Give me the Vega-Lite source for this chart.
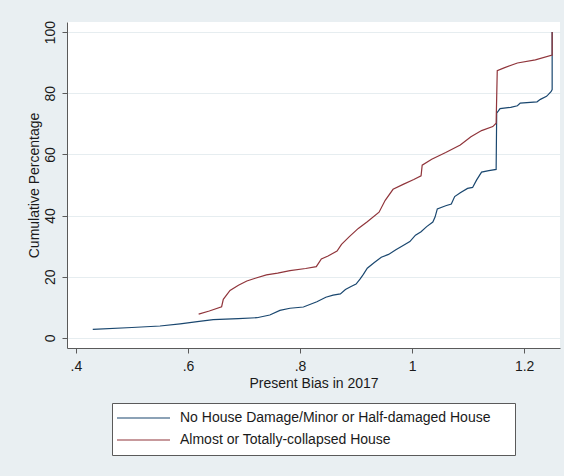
{
  "$schema": "https://vega.github.io/schema/vega-lite/v6.json",
  "width": 493,
  "height": 326,
  "autosize": {"type": "none"},
  "padding": {"left": 67, "top": 22, "right": 4, "bottom": 128},
  "background": "#e9eff2",
  "config": {
    "font": "Liberation Sans",
    "view": {"fill": "white", "stroke": null},
    "axis": {
      "domainColor": "#5a5a5a",
      "tickColor": "#5a5a5a",
      "tickSize": 5,
      "labelFont": "Liberation Sans",
      "labelFontSize": 14,
      "labelColor": "#1a1a1a",
      "titleFont": "Liberation Sans",
      "titleFontSize": 14,
      "titleFontWeight": "normal",
      "titleColor": "#1a1a1a"
    }
  },
  "data": {
    "values": [
      {"i": 1, "group": "No House Damage/Minor or Half-damaged House", "bias": 0.43, "pct": 2.8},
      {"i": 2, "group": "No House Damage/Minor or Half-damaged House", "bias": 0.5, "pct": 3.4},
      {"i": 3, "group": "No House Damage/Minor or Half-damaged House", "bias": 0.55, "pct": 3.9},
      {"i": 4, "group": "No House Damage/Minor or Half-damaged House", "bias": 0.586, "pct": 4.6},
      {"i": 5, "group": "No House Damage/Minor or Half-damaged House", "bias": 0.62, "pct": 5.4},
      {"i": 6, "group": "No House Damage/Minor or Half-damaged House", "bias": 0.645, "pct": 6.0},
      {"i": 7, "group": "No House Damage/Minor or Half-damaged House", "bias": 0.69, "pct": 6.3},
      {"i": 8, "group": "No House Damage/Minor or Half-damaged House", "bias": 0.723, "pct": 6.6},
      {"i": 9, "group": "No House Damage/Minor or Half-damaged House", "bias": 0.746, "pct": 7.5},
      {"i": 10, "group": "No House Damage/Minor or Half-damaged House", "bias": 0.764, "pct": 9.0},
      {"i": 11, "group": "No House Damage/Minor or Half-damaged House", "bias": 0.782, "pct": 9.7},
      {"i": 12, "group": "No House Damage/Minor or Half-damaged House", "bias": 0.806, "pct": 10.1},
      {"i": 13, "group": "No House Damage/Minor or Half-damaged House", "bias": 0.83, "pct": 11.8},
      {"i": 14, "group": "No House Damage/Minor or Half-damaged House", "bias": 0.846, "pct": 13.3},
      {"i": 15, "group": "No House Damage/Minor or Half-damaged House", "bias": 0.859, "pct": 14.0},
      {"i": 16, "group": "No House Damage/Minor or Half-damaged House", "bias": 0.872, "pct": 14.4},
      {"i": 17, "group": "No House Damage/Minor or Half-damaged House", "bias": 0.881, "pct": 15.8},
      {"i": 18, "group": "No House Damage/Minor or Half-damaged House", "bias": 0.891, "pct": 16.8},
      {"i": 19, "group": "No House Damage/Minor or Half-damaged House", "bias": 0.9, "pct": 17.6},
      {"i": 20, "group": "No House Damage/Minor or Half-damaged House", "bias": 0.907, "pct": 19.2},
      {"i": 21, "group": "No House Damage/Minor or Half-damaged House", "bias": 0.913, "pct": 20.8},
      {"i": 22, "group": "No House Damage/Minor or Half-damaged House", "bias": 0.92, "pct": 22.8},
      {"i": 23, "group": "No House Damage/Minor or Half-damaged House", "bias": 0.932, "pct": 24.6},
      {"i": 24, "group": "No House Damage/Minor or Half-damaged House", "bias": 0.945, "pct": 26.4},
      {"i": 25, "group": "No House Damage/Minor or Half-damaged House", "bias": 0.958, "pct": 27.3},
      {"i": 26, "group": "No House Damage/Minor or Half-damaged House", "bias": 0.971, "pct": 28.8},
      {"i": 27, "group": "No House Damage/Minor or Half-damaged House", "bias": 0.984, "pct": 30.2},
      {"i": 28, "group": "No House Damage/Minor or Half-damaged House", "bias": 0.996, "pct": 31.5},
      {"i": 29, "group": "No House Damage/Minor or Half-damaged House", "bias": 1.006, "pct": 33.6},
      {"i": 30, "group": "No House Damage/Minor or Half-damaged House", "bias": 1.016, "pct": 34.7},
      {"i": 31, "group": "No House Damage/Minor or Half-damaged House", "bias": 1.026, "pct": 36.4},
      {"i": 32, "group": "No House Damage/Minor or Half-damaged House", "bias": 1.037, "pct": 37.9},
      {"i": 33, "group": "No House Damage/Minor or Half-damaged House", "bias": 1.041, "pct": 39.5},
      {"i": 34, "group": "No House Damage/Minor or Half-damaged House", "bias": 1.045, "pct": 42.2},
      {"i": 35, "group": "No House Damage/Minor or Half-damaged House", "bias": 1.06, "pct": 43.2},
      {"i": 36, "group": "No House Damage/Minor or Half-damaged House", "bias": 1.07, "pct": 43.8},
      {"i": 37, "group": "No House Damage/Minor or Half-damaged House", "bias": 1.076, "pct": 46.2},
      {"i": 38, "group": "No House Damage/Minor or Half-damaged House", "bias": 1.086, "pct": 47.5},
      {"i": 39, "group": "No House Damage/Minor or Half-damaged House", "bias": 1.099, "pct": 48.9},
      {"i": 40, "group": "No House Damage/Minor or Half-damaged House", "bias": 1.108, "pct": 49.2},
      {"i": 41, "group": "No House Damage/Minor or Half-damaged House", "bias": 1.115, "pct": 51.6},
      {"i": 42, "group": "No House Damage/Minor or Half-damaged House", "bias": 1.124, "pct": 54.2},
      {"i": 43, "group": "No House Damage/Minor or Half-damaged House", "bias": 1.137, "pct": 54.7},
      {"i": 44, "group": "No House Damage/Minor or Half-damaged House", "bias": 1.15, "pct": 55.1},
      {"i": 45, "group": "No House Damage/Minor or Half-damaged House", "bias": 1.151, "pct": 73.5},
      {"i": 46, "group": "No House Damage/Minor or Half-damaged House", "bias": 1.157, "pct": 75.0},
      {"i": 47, "group": "No House Damage/Minor or Half-damaged House", "bias": 1.176, "pct": 75.4},
      {"i": 48, "group": "No House Damage/Minor or Half-damaged House", "bias": 1.188, "pct": 75.9},
      {"i": 49, "group": "No House Damage/Minor or Half-damaged House", "bias": 1.193, "pct": 76.8},
      {"i": 50, "group": "No House Damage/Minor or Half-damaged House", "bias": 1.223, "pct": 77.2},
      {"i": 51, "group": "No House Damage/Minor or Half-damaged House", "bias": 1.229, "pct": 78.0},
      {"i": 52, "group": "No House Damage/Minor or Half-damaged House", "bias": 1.24, "pct": 79.0},
      {"i": 53, "group": "No House Damage/Minor or Half-damaged House", "bias": 1.248, "pct": 80.5},
      {"i": 54, "group": "No House Damage/Minor or Half-damaged House", "bias": 1.25, "pct": 81.2},
      {"i": 55, "group": "No House Damage/Minor or Half-damaged House", "bias": 1.25, "pct": 100},
      {"i": 1, "group": "Almost or Totally-collapsed House", "bias": 0.619, "pct": 7.8},
      {"i": 2, "group": "Almost or Totally-collapsed House", "bias": 0.638, "pct": 8.8},
      {"i": 3, "group": "Almost or Totally-collapsed House", "bias": 0.66, "pct": 10.2},
      {"i": 4, "group": "Almost or Totally-collapsed House", "bias": 0.663, "pct": 12.6},
      {"i": 5, "group": "Almost or Totally-collapsed House", "bias": 0.675, "pct": 15.5},
      {"i": 6, "group": "Almost or Totally-collapsed House", "bias": 0.69, "pct": 17.2},
      {"i": 7, "group": "Almost or Totally-collapsed House", "bias": 0.705, "pct": 18.6},
      {"i": 8, "group": "Almost or Totally-collapsed House", "bias": 0.72, "pct": 19.5},
      {"i": 9, "group": "Almost or Totally-collapsed House", "bias": 0.74, "pct": 20.6},
      {"i": 10, "group": "Almost or Totally-collapsed House", "bias": 0.76, "pct": 21.2},
      {"i": 11, "group": "Almost or Totally-collapsed House", "bias": 0.782, "pct": 22.0},
      {"i": 12, "group": "Almost or Totally-collapsed House", "bias": 0.81, "pct": 22.7},
      {"i": 13, "group": "Almost or Totally-collapsed House", "bias": 0.829, "pct": 23.3},
      {"i": 14, "group": "Almost or Totally-collapsed House", "bias": 0.838, "pct": 25.8},
      {"i": 15, "group": "Almost or Totally-collapsed House", "bias": 0.85, "pct": 26.8},
      {"i": 16, "group": "Almost or Totally-collapsed House", "bias": 0.866, "pct": 28.4},
      {"i": 17, "group": "Almost or Totally-collapsed House", "bias": 0.874, "pct": 30.6},
      {"i": 18, "group": "Almost or Totally-collapsed House", "bias": 0.888, "pct": 33.1},
      {"i": 19, "group": "Almost or Totally-collapsed House", "bias": 0.904, "pct": 35.8},
      {"i": 20, "group": "Almost or Totally-collapsed House", "bias": 0.92, "pct": 38.0},
      {"i": 21, "group": "Almost or Totally-collapsed House", "bias": 0.941, "pct": 41.1},
      {"i": 22, "group": "Almost or Totally-collapsed House", "bias": 0.952, "pct": 45.0},
      {"i": 23, "group": "Almost or Totally-collapsed House", "bias": 0.966, "pct": 48.6},
      {"i": 24, "group": "Almost or Totally-collapsed House", "bias": 0.984, "pct": 50.2},
      {"i": 25, "group": "Almost or Totally-collapsed House", "bias": 1.003, "pct": 51.8},
      {"i": 26, "group": "Almost or Totally-collapsed House", "bias": 1.016, "pct": 53.0},
      {"i": 27, "group": "Almost or Totally-collapsed House", "bias": 1.018, "pct": 56.5},
      {"i": 28, "group": "Almost or Totally-collapsed House", "bias": 1.035, "pct": 58.4},
      {"i": 29, "group": "Almost or Totally-collapsed House", "bias": 1.06, "pct": 60.6},
      {"i": 30, "group": "Almost or Totally-collapsed House", "bias": 1.086, "pct": 63.1},
      {"i": 31, "group": "Almost or Totally-collapsed House", "bias": 1.105, "pct": 65.8},
      {"i": 32, "group": "Almost or Totally-collapsed House", "bias": 1.124, "pct": 67.8},
      {"i": 33, "group": "Almost or Totally-collapsed House", "bias": 1.144, "pct": 69.1},
      {"i": 34, "group": "Almost or Totally-collapsed House", "bias": 1.15, "pct": 70.2},
      {"i": 35, "group": "Almost or Totally-collapsed House", "bias": 1.152, "pct": 87.4},
      {"i": 36, "group": "Almost or Totally-collapsed House", "bias": 1.163, "pct": 88.2},
      {"i": 37, "group": "Almost or Totally-collapsed House", "bias": 1.188, "pct": 89.9},
      {"i": 38, "group": "Almost or Totally-collapsed House", "bias": 1.22, "pct": 90.9},
      {"i": 39, "group": "Almost or Totally-collapsed House", "bias": 1.25, "pct": 92.5},
      {"i": 40, "group": "Almost or Totally-collapsed House", "bias": 1.25, "pct": 100}
    ]
  },
  "mark": {"type": "line", "strokeWidth": 1.2, "interpolate": "linear"},
  "encoding": {
    "x": {
      "field": "bias",
      "type": "quantitative",
      "scale": {"domain": [0.384, 1.264], "nice": false, "zero": false},
      "axis": {
        "values": [0.4, 0.6, 0.8, 1, 1.2],
        "labelExpr": "datum.value < 1 ? slice(format(datum.value, '.1f'), 1) : format(datum.value, '~g')",
        "grid": false,
        "labelPadding": 6,
        "title": "Present Bias in 2017",
        "titlePadding": 3
      }
    },
    "y": {
      "field": "pct",
      "type": "quantitative",
      "scale": {"domain": [-3.3, 103.3], "nice": false, "zero": false},
      "axis": {
        "values": [0, 20, 40, 60, 80, 100],
        "grid": true,
        "gridColor": "#e6edf0",
        "gridWidth": 1.2,
        "labelAngle": 270,
        "labelAlign": "center",
        "labelBaseline": "bottom",
        "labelPadding": 5,
        "title": "Cumulative Percentage",
        "titlePadding": 2
      }
    },
    "color": {
      "field": "group",
      "type": "nominal",
      "scale": {
        "domain": ["No House Damage/Minor or Half-damaged House", "Almost or Totally-collapsed House"],
        "range": ["#1a476f", "#90353b"]
      },
      "legend": {
        "title": " ",
        "titleOrient": "right",
        "titlePadding": 17,
        "titleFontSize": 14,
        "orient": "none",
        "legendX": 45,
        "legendY": 381,
        "direction": "vertical",
        "fillColor": "white",
        "strokeColor": "#5a5a5a",
        "padding": 8,
        "symbolType": "M-26.5,0H26.5",
        "symbolSize": 4,
        "symbolOffset": 16.5,
        "symbolStrokeWidth": 1.2,
        "symbolFillColor": "transparent",
        "labelFont": "Liberation Sans",
        "labelFontSize": 14,
        "labelColor": "#1a1a1a",
        "labelLimit": 400,
        "labelOffset": 29.5,
        "rowPadding": 8
      }
    },
    "order": {"field": "i"}
  }
}
